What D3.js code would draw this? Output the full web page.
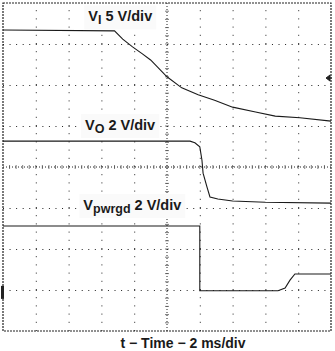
<!DOCTYPE html>
<html>
<head>
<meta charset="utf-8">
<script src="https://cdn.jsdelivr.net/npm/d3@7"></script>
<style>
  body { margin: 0; background: #fff; }
  text { font-family: 'Liberation Sans', Arial, sans-serif; font-weight: bold; fill: #1a1a1a; }
</style>
</head>
<body>
<script>
// scope screen: 10 divisions of 2 ms, 8 vertical divisions
// trace values are read in divisions from the screen centre
const viTime = [0, 6.8, 7.3, 7.9, 8.5, 9.0, 10.0, 10.9, 11.9, 12.9, 14.0, 15.4, 16.6, 18.1, 20]
const viDiv = [3.34, 3.32, 3.12, 2.93, 2.76, 2.61, 2.2, 1.93, 1.76, 1.63, 1.46, 1.34, 1.24, 1.2, 1.12]

const voTime = [0, 11.4, 11.7, 12.0, 12.13, 12.2, 12.44, 12.62, 13.1, 14.0, 16.0, 20]
const voDiv = [0.63, 0.63, 0.59, 0.49, 0.17, -0.15, -0.49, -0.73, -0.78, -0.83, -0.86, -0.88]

const pgTime = [0, 12.0, 12.0, 16.77, 17.2, 17.5, 17.8, 20]
const pgDiv = [-1.44, -1.44, -3.02, -3.02, -2.95, -2.76, -2.61, -2.61]

const gridTimes = [2, 4, 6, 8, 12, 14, 16, 18]
const gridDivs = [-3, -2, -1, 1, 2, 3]

const labels = [
  { main: 'V', sub: 'I', rest: ' 5 V/div', t: 5.2, d: 3.55 },
  { main: 'V', sub: 'O', rest: ' 2 V/div', t: 5.0, d: 0.9 },
  { main: 'V', sub: 'pwrgd', rest: ' 2 V/div', t: 4.9, d: -1.05 }
]
const xTitle = 't \u2212 Time \u2212 2 ms/div'

const width = 335
const height = 351
const margin = { top: 3, left: 3, right: 4, bottom: 20 }

const svg = d3.select('body')
  .append('svg')
  .attr('width', width)
  .attr('height', height)

const x = d3.scaleLinear()
  .domain([0, 20])
  .range([margin.left, width - margin.right])

const y = d3.scaleLinear()
  .domain([-4, 4])
  .range([height - margin.bottom, margin.top])

const plotW = x(20) - x(0)
const plotH = y(-4) - y(4)

// dotted graticule
svg.append('g')
  .attr('transform', `translate(0,${y(-4)})`)
  .call(d3.axisBottom(x).tickValues(gridTimes).tickSize(-plotH).tickFormat(''))
  .call(g => g.select('.domain').remove())
  .selectAll('line')
  .attr('stroke', '#222')
  .attr('stroke-dasharray', `1,${plotH / 40 - 1}`)

svg.append('g')
  .attr('transform', `translate(${x(0)},0)`)
  .call(d3.axisLeft(y).tickValues(gridDivs).tickSize(-plotW).tickFormat(''))
  .call(g => g.select('.domain').remove())
  .selectAll('line')
  .attr('stroke', '#222')
  .attr('stroke-dasharray', `1,${plotW / 50 - 1}`)

// centre axes with minor ticks
const centre = svg.append('g')
centre.append('line')
  .attr('x1', x(0)).attr('x2', x(20))
  .attr('y1', y(0)).attr('y2', y(0))
  .attr('stroke', '#222')
  .attr('stroke-dasharray', '1,2')
centre.append('line')
  .attr('x1', x(10)).attr('x2', x(10))
  .attr('y1', y(-4)).attr('y2', y(4))
  .attr('stroke', '#222')
  .attr('stroke-dasharray', '1,2')
centre.selectAll('line.mx')
  .data(d3.range(1, 50).map(i => i * 0.4))
  .enter()
  .append('line')
  .attr('class', 'mx')
  .attr('x1', d => x(d)).attr('x2', d => x(d))
  .attr('y1', y(0) - 2).attr('y2', y(0) + 2)
  .attr('stroke', '#444')
  .attr('stroke-width', 0.7)
centre.selectAll('line.my')
  .data(d3.range(1, 40).map(i => -4 + i * 0.2))
  .enter()
  .append('line')
  .attr('class', 'my')
  .attr('x1', x(10) - 2).attr('x2', x(10) + 2)
  .attr('y1', d => y(d)).attr('y2', d => y(d))
  .attr('stroke', '#444')
  .attr('stroke-width', 0.7)

// screen border
svg.append('rect')
  .attr('x', x(0))
  .attr('y', y(4))
  .attr('width', plotW)
  .attr('height', plotH)
  .attr('fill', 'none')
  .attr('stroke', '#222')
  .attr('stroke-width', 1.2)
  .attr('stroke-dasharray', '2,1')

// labels with white background
labels.forEach(l => {
  const g = svg.append('g')
  const bg = g.append('rect').attr('fill', '#fafafa')
  const t = g.append('text')
    .attr('x', x(l.t))
    .attr('y', y(l.d))
    .style('font-size', '14.5px')
  t.append('tspan').text(l.main)
  t.append('tspan').attr('dy', 3).style('font-size', '12.5px').text(l.sub)
  t.append('tspan').attr('dy', -3).text(l.rest)
  const bb = t.node().getBBox()
  bg.attr('x', bb.x - 4).attr('y', bb.y - 3)
    .attr('width', bb.width + 8).attr('height', bb.height + 5)
})

// traces
const line = d3.line()
  .x(d => x(d[0]))
  .y(d => y(d[1]))

const traces = [
  d3.zip(viTime, viDiv),
  d3.zip(voTime, voDiv),
  d3.zip(pgTime, pgDiv)
]

svg.selectAll('path.trace')
  .data(traces)
  .enter()
  .append('path')
  .attr('class', 'trace')
  .attr('d', line)
  .attr('fill', 'none')
  .attr('stroke', '#1a1a1a')
  .attr('stroke-width', 1.1)

// ground / trigger markers
svg.append('rect')
  .attr('x', x(0) - 2)
  .attr('y', y(-2.9))
  .attr('width', 3)
  .attr('height', 13)
  .attr('fill', '#222')
svg.append('path')
  .attr('d', `M${x(20) - 5},${y(2.17)} l4,-3 l0,6 z M${x(20) - 3},${y(2.17)} h4`)
  .attr('fill', '#222')
  .attr('stroke', '#222')

// x title
svg.append('text')
  .attr('x', 183)
  .attr('y', height - 3)
  .attr('text-anchor', 'middle')
  .style('font-size', '14px')
  .text(xTitle)
</script>
</body>
</html>
